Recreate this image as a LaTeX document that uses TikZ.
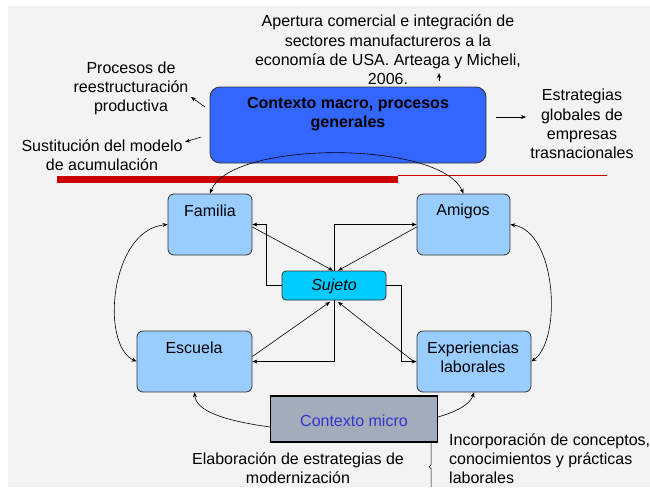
\documentclass[tikz,border=0pt]{standalone}
\usepackage{fontspec}
\setmainfont{Liberation Sans}
\usetikzlibrary{arrows.meta,calc}
\definecolor{macroblue}{HTML}{3366FF}
\definecolor{lightblue}{HTML}{99CCFF}
\definecolor{cyanbox}{HTML}{00CCFF}
\definecolor{microgray}{HTML}{A2ACBB}
\definecolor{microtext}{HTML}{3333CC}
\definecolor{redbar}{HTML}{CC0000}
\definecolor{bgstripe}{HTML}{F3F3F3}
\definecolor{boxline}{HTML}{333333}
\tikzset{
  txt/.style={inner sep=0pt, align=center, font=\fontsize{16}{19.3}\selectfont},
  rbox/.style={draw=boxline, line width=0.8pt, rounded corners=6pt, inner sep=0pt},
  conn/.style={line width=0.6pt, -{Stealth[length=5pt,width=4pt]}},
  dconn/.style={line width=0.6pt, {Stealth[length=5pt,width=4pt]}-{Stealth[length=5pt,width=4pt]}},
}
\begin{document}
\begin{tikzpicture}[x=1pt,y=-1pt]
\path[use as bounding box] (0,0) rectangle (650,487);
\fill[bgstripe] (8,6) rectangle (650,487);

% red rule
\fill[redbar] (57,176) rectangle (398,183);
\draw[redbar, line width=1pt] (398,175.5) -- (607,175.5);

% boxes
\node[rbox, fill=macroblue, rounded corners=10pt, minimum width=276pt, minimum height=76pt] (macro) at (348,125) {};
\node[txt, font=\fontsize{16}{19.3}\selectfont\bfseries] (macrot) at (348,114) {Contexto macro, procesos\\generales};

\node[rbox, fill=lightblue, minimum width=84pt, minimum height=61pt] (familia) at (210,224.5) {};
\node[txt] (familiat) at (210,211) {Familia};
\node[rbox, fill=lightblue, minimum width=93pt, minimum height=61pt] (amigos) at (463.5,224.5) {};
\node[txt] (amigost) at (463,211) {Amigos};
\node[rbox, fill=cyanbox, rounded corners=4pt, minimum width=104pt, minimum height=29pt] (sujeto) at (334,285.5) {};
\node[txt, font=\fontsize{16}{19.3}\selectfont\itshape] (sujetot) at (334,286) {Sujeto};
\node[rbox, fill=lightblue, minimum width=115pt, minimum height=61pt] (escuela) at (194.5,361.5) {};
\node[txt] (escuelat) at (194,348) {Escuela};
\node[rbox, fill=lightblue, minimum width=114pt, minimum height=61pt] (exper) at (474,361.5) {};
\node[txt] (expert) at (473,357.5) {Experiencias\\laborales};
\node[draw=black, line width=1.2pt, fill=microgray, inner sep=0pt, minimum width=167pt, minimum height=46pt] (micro) at (354,419) {};
\node[txt, text=microtext] (microt) at (354,421) {Contexto micro};

% outer labels
\node[txt] (apertura) at (388,50) {Apertura comercial e integración de\\sectores manufactureros a la\\economía de USA. Arteaga y Micheli,\\2006.};
\node[txt] (procesos) at (131,88.5) {Procesos de\\reestructuración\\productiva};
\node[txt] (sustit) at (102,155) {Sustitución del modelo\\de acumulación};
\node[txt] (estrat) at (582,124) {Estrategias\\globales de\\empresas\\trasnacionales};
\node[txt] (elab) at (298,468.5) {Elaboración de estrategias de\\modernización};
\node[txt, align=left, anchor=west] (incorp) at (449,458.5) {Incorporación de conceptos,\\conocimientos y prácticas\\laborales};

% small arrows from the macro context
\coordinate (a1s) at (439,81); \coordinate (a1e) at (439,73);
\coordinate (a2s) at (205,107); \coordinate (a2e) at (191,97);
\coordinate (a3s) at (201,137); \coordinate (a3e) at (185,142);
\coordinate (a4s) at (496,117); \coordinate (a4e) at (526,117);
\draw[conn] (a1s) -- (a1e);
\draw[conn] (a2s) -- (a2e);
\draw[conn] (a3s) -- (a3e);
\draw[conn] (a4s) -- (a4e);

% arc from macro to familia / amigos
\draw[dconn] (familia.north) .. controls (230,140) and (440,140) .. (amigos.north);

% side curves
\draw[dconn] (familia.west) .. controls (110,230) and (100,345) .. (escuela.west);
\draw[dconn] (amigos.east) .. controls (557,232) and (562,340) .. (exper.east);

% elbows
\draw[conn] (sujeto.west) -- ++(-15,0) |- (familia.east);
\draw[conn] (sujeto.north) |- (amigos.west);
\draw[conn] (sujeto.south) |- (escuela.east);
\draw[conn] (sujeto.east) -- ++(15,0) |- (exper.west);

% diagonals
\draw[conn] ($(familia.east)+(0,2.5)$) -- ($(sujeto.north)+(-1,0)$);
\draw[conn] ($(amigos.west)+(0,2.5)$) -- ($(sujeto.north)+(4,0)$);
\draw[conn] ($(escuela.east)+(0,-5)$) -- ($(sujeto.south)+(-4,1.5)$);
\draw[conn] ($(exper.west)+(-3,0)$) -- ($(sujeto.south)+(4,1.5)$);

% micro curves
\draw[conn] ($(micro.west)+(0,8)$) .. controls (220,420) and (196,410) .. (escuela.south);
\draw[conn] ($(micro.east)+(0,-2)$) .. controls (455,412) and (470,405) .. (exper.south);

% brace
\coordinate (br) at ($(micro.south east)+(-7,0)$);
\draw[line width=0.6pt] (br) -- ++(0,22) -- ++(-2,2) -- ++(2,2) -- (br |- 0,487);
\end{tikzpicture}
\end{document}
